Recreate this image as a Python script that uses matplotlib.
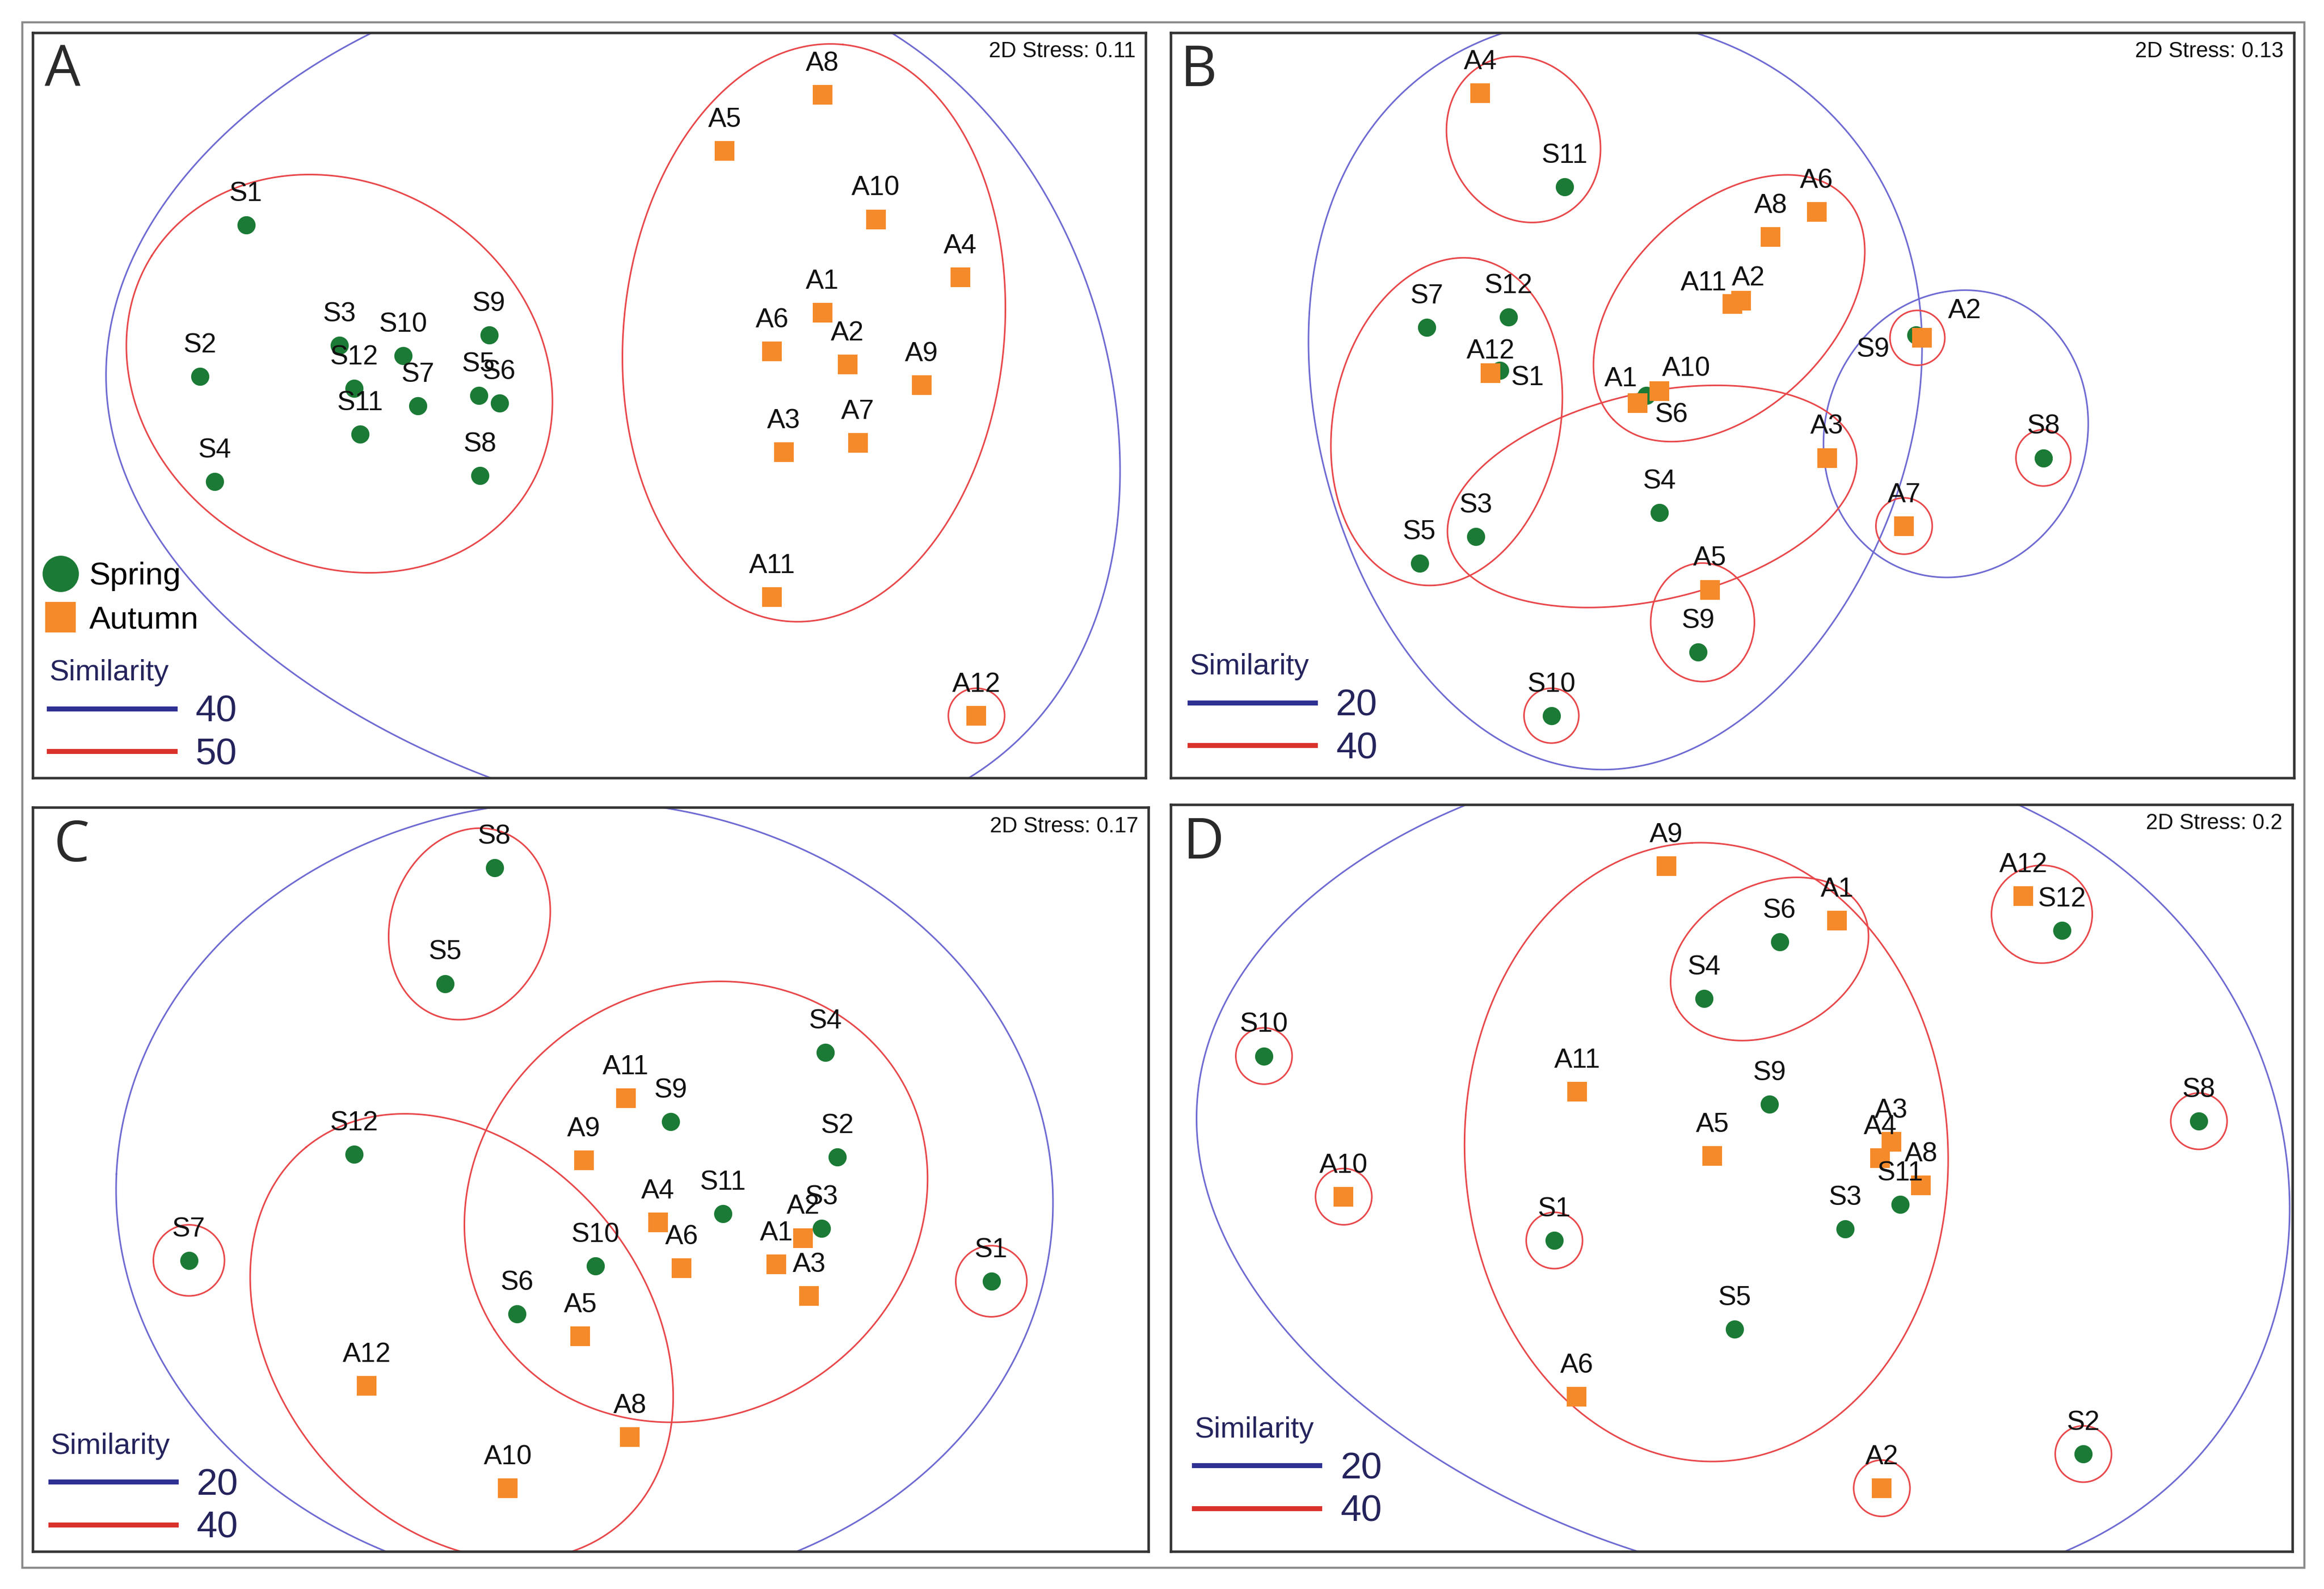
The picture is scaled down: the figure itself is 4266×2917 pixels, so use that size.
import numpy as np
import matplotlib
matplotlib.use('Agg')
import matplotlib.pyplot as plt
from matplotlib.lines import Line2D
from matplotlib.patches import Ellipse, Rectangle

# all coordinates are ordination positions (page units)
W, H = 1568.4, 1072.4

# ---------------- panel A ----------------
a_spring_lab = ['S1', 'S2', 'S3', 'S4', 'S5', 'S6', 'S7', 'S8', 'S9', 'S10', 'S11', 'S12']
a_spring_x = [166, 135, 229, 145, 323, 337, 282, 324, 330, 272, 243, 239]
a_spring_y = [152, 254, 233, 325, 267, 272, 274, 321, 226, 240, 293, 262]
a_autumn_lab = ['A1', 'A2', 'A3', 'A4', 'A5', 'A6', 'A7', 'A8', 'A9', 'A10', 'A11', 'A12']
a_autumn_x = [555, 572, 529, 648, 489, 521, 579, 555, 622, 591, 521, 659]
a_autumn_y = [211, 246, 305, 187, 102, 237, 299, 64, 260, 148, 403, 483]
# traced outlines (run off the frame), fitted clusters, single-sample rings
a_trace = [[(418, -25), (590, 22), (635, 51), (706, 120), (741, 205), (756, 308), (754, 359),
            (726, 434), (695, 486), (668, 525), (505, 562), (338, 525), (262, 492), (202, 455),
            (131, 393), (88, 342), (76, 300), (72, 255), (80, 205), (101, 154), (151, 92),
            (202, 51), (247, 22)]]
a_fit = [[(207, 116), (151, 127), (111, 161), (91, 205), (90, 257), (111, 315), (161, 363),
          (237, 386), (302, 373), (353, 335), (375, 274), (363, 212), (323, 171), (272, 133)],
         [(554, 34), (484, 58), (438, 137), (423, 239), (443, 342), (494, 410), (534, 426),
          (580, 407), (645, 325), (680, 239), (678, 154), (640, 79), (595, 41)]]
a_fit_col = ['r', 'r']
a_rings = [(659, 483, 38, 37)]

# ---------------- panel B ----------------
b_spring_lab = ['S1', 'S3', 'S4', 'S5', 'S6', 'S7', 'S8', 'S9', 'S9', 'S10', 'S11', 'S12']
b_spring_x = [1012, 996, 1120, 958, 1111, 963, 1379, 1293, 1146, 1047, 1056, 1018]
b_spring_y = [250, 362, 346, 380, 267, 221, 309, 226, 440, 483, 126, 214]
b_autumn_lab = ['A1', 'A2', 'A2', 'A3', 'A4', 'A5', 'A6', 'A7', 'A8', 'A10', 'A11', 'A12']
b_autumn_x = [1105, 1175, 1297, 1233, 999, 1154, 1226, 1285, 1195, 1120, 1169, 1006]
b_autumn_y = [272, 203, 228, 309, 63, 398, 143, 355, 160, 264, 205, 252]
b_trace = [[(1068, 4), (1128, 21), (1184, 45), (1234, 79), (1284, 137), (1299, 212),
            (1294, 257), (1284, 308), (1264, 376), (1209, 455), (1134, 507), (1084, 524),
            (998, 486), (933, 411), (888, 308), (883, 205), (898, 137), (933, 86), (973, 45),
            (1008, 21)]]
b_fit = [[(1229, 294), (1264, 222), (1324, 197), (1384, 219), (1409, 294), (1374, 363),
          (1316, 393), (1259, 363)],
         [(1018, 40), (1063, 55), (1078, 110), (1048, 149), (983, 113), (976, 75)],
         [(1214, 118), (1249, 130), (1251, 178), (1234, 240), (1184, 281), (1134, 295),
          (1094, 291), (1079, 260), (1084, 205), (1114, 164), (1164, 130)],
         [(978, 349), (1008, 308), (1064, 277), (1134, 262), (1184, 262), (1234, 277),
          (1251, 308), (1244, 342), (1209, 370), (1159, 394), (1084, 411), (1024, 404),
          (988, 383)],
         [(993, 180), (948, 190), (913, 222), (903, 298), (913, 359), (948, 397), (983, 394),
          (1019, 359), (1049, 308), (1056, 260), (1044, 212), (1024, 188)]]
b_fit_col = ['b', 'r', 'r', 'r', 'r']
b_rings = [(1294, 228, 37, 37), (1285, 355, 38, 38), (1379, 309, 37, 38),
           (1047, 483, 37, 37), (1149, 420, 70, 80)]

# ---------------- panel C ----------------
c_spring_lab = ['S1', 'S2', 'S3', 'S4', 'S5', 'S6', 'S7', 'S8', 'S9', 'S10', 'S11', 'S12']
c_spring_x = [669, 565, 554.5, 557, 300.4, 349, 127.5, 333.7, 452.7, 402, 488, 239]
c_spring_y = [864.7, 780.8, 829, 710.3, 663.8, 886.7, 850.6, 585.7, 757, 854.4, 819, 779]
c_autumn_lab = ['A1', 'A2', 'A3', 'A4', 'A5', 'A6', 'A8', 'A9', 'A10', 'A11', 'A12']
c_autumn_x = [524, 542, 546, 444, 391.7, 460, 425, 394, 342.8, 422.4, 247.5]
c_autumn_y = [853.4, 835.5, 874.7, 825, 901.9, 856, 970, 783, 1004.4, 741.2, 935.2]
c_trace = []
c_fit = [[(305, 545), (201.6, 591.6), (126, 670.7), (83, 774), (85.7, 860), (116, 929),
          (166, 994), (257, 1046.7), (529, 1046.7), (580, 1021.6), (655, 963), (706, 877),
          (716, 808), (680.6, 705), (605, 619), (450, 545)],
         [(322.6, 560.6), (282, 577.8), (263, 633), (282, 677.6), (308.5, 689.6),
          (353, 663.8), (372, 612), (358, 574.4)],
         [(504, 661), (428.5, 677.6), (363, 715.4), (322.6, 773.9), (308.5, 829), (322.6, 877),
          (363, 921.8), (448.6, 958), (504, 956.3), (554.5, 928.7), (605, 870), (621.6, 801.4),
          (605, 722.3), (564.6, 681)],
         [(262, 747), (327.7, 767), (393, 808), (438.6, 877), (456, 946), (443.6, 1007.8),
          (393, 1038.7), (327.7, 1044), (252, 1021.6), (201.6, 973), (179, 877),
          (181.5, 808), (216.8, 763.6)]]
c_fit_col = ['b', 'r', 'r', 'r']
c_rings = [(127.5, 850.6, 48, 48), (669, 864.7, 48, 48)]

# ---------------- panel D ----------------
d_spring_lab = ['S1', 'S2', 'S3', 'S4', 'S5', 'S6', 'S8', 'S9', 'S10', 'S11', 'S12']
d_spring_x = [1049, 1406, 1245.3, 1150, 1170.7, 1201, 1484, 1194.3, 853, 1282.4, 1391.6]
d_spring_y = [837.2, 981.3, 829.3, 673.8, 897, 635.6, 756.7, 745.3, 712.7, 812.8, 628]
d_autumn_lab = ['A1', 'A2', 'A3', 'A4', 'A5', 'A6', 'A8', 'A9', 'A10', 'A11', 'A12']
d_autumn_x = [1239.8, 1270, 1276.4, 1268.9, 1155.7, 1064, 1296.4, 1124.6, 906.8, 1064.5, 1365.5]
d_autumn_y = [621.2, 1004.4, 770.5, 781.5, 780, 942.5, 800, 584.7, 807.6, 736.7, 604.7]
d_trace = [[(1181, 518), (1373.6, 543.4), (1426.7, 577.8), (1479.7, 626), (1512.9, 688),
            (1532.8, 746.4), (1541.4, 808.3), (1539.5, 853), (1530, 911.5), (1512.9, 956),
            (1479.7, 990.6), (1439.9, 1018), (1390.8, 1047.4), (1250, 1070), (1107.5, 1047.4),
            (1018.9, 1007.8), (934.5, 963.1), (871.2, 911.5), (829, 842.7), (815.3, 791.1),
            (813.2, 739.5), (829, 677.6), (860.7, 622.5), (913.4, 574.4), (989.4, 543.4)]]
d_fit = [[(1143.7, 560.6), (1109.6, 564), (1061, 601.9), (1018.9, 670.7), (997.8, 773.9),
          (999.9, 842.7), (1018.9, 911.5), (1050.6, 952.8), (1092.8, 973.4), (1133.7, 976.8),
          (1183.7, 963.1), (1258.9, 928.7), (1309, 877.1), (1324, 794.5), (1309, 739.5),
          (1283.9, 687.9), (1233.8, 619.1), (1193.7, 574.4)],
         [(1208.8, 592.3), (1261.4, 629.4), (1243.8, 670.7), (1173.7, 702.7), (1128.7, 663.8),
          (1133.7, 636.3), (1173.7, 601.9)]]
d_fit_col = ['r', 'r']
d_rings = [(1378, 617, 68, 66), (853, 712.7, 38, 38), (906.8, 807.6, 38, 38),
           (1049, 837.2, 38, 38), (1484, 756.7, 38, 38), (1406, 981.3, 38, 38),
           (1270, 1004.4, 38, 38)]

stress = ['2D Stress: 0.11', '2D Stress: 0.13', '2D Stress: 0.17', '2D Stress: 0.2']
sim_levels = [('40', '50'), ('20', '40'), ('20', '40'), ('20', '40')]

# label nudges (page px: right, up) where a label is not straight above its point
b_spring_off = {0: (19, -5), 7: (-29, -10), 4: (17, -13)}
b_autumn_off = {0: (-11, 16), 1: (5, 15), 2: (29, 18), 9: (18, 15), 10: (-19, 14), 11: (0, 15)}

GREEN = '#1b7a35'
ORANGE = '#f58a2a'
RED = '#e8474a'
BLUE = '#6e6ad2'
NAVY = '#24235c'
PX = 2.72 * 72 / 300  # page px -> points

plt.rcParams['font.family'] = ['Liberation Sans', 'DejaVu Sans']


def fit_ellipse(pts, n=500):
    p = np.asarray(pts, float)
    m = p.mean(0)
    s = p.std()
    q = (p - m) / s
    x, y = q[:, 0], q[:, 1]
    M = np.column_stack([x * x, x * y, y * y, x, y])
    a, b, c, d, e = np.linalg.lstsq(M, np.ones(len(q)), rcond=None)[0]
    Q = np.array([[a, b / 2], [b / 2, c]])
    L = np.array([d, e])
    c0 = np.linalg.solve(2 * Q, -L)
    k = 1 - (c0 @ Q @ c0 + L @ c0)
    w, V = np.linalg.eigh(Q / k)
    t = np.linspace(0, 2 * np.pi, n)
    u = V @ np.vstack([np.cos(t) / np.sqrt(w[0]), np.sin(t) / np.sqrt(w[1])])
    return (u.T + c0) * s + m


def smooth_outline(pts, order=2, n=720, rounds=30):
    # low-order fourier curve fitted to a traced closed outline (egg shapes),
    # re-assigning each traced point to its nearest spot on the curve
    p = np.asarray(pts, float)
    seg = np.linalg.norm(np.diff(np.vstack([p, p[:1]]), axis=0), axis=1)
    s = np.concatenate([[0], np.cumsum(seg)[:-1]]) / seg.sum() * 2 * np.pi

    def basis(t):
        cols = [np.ones_like(t)]
        for k in range(1, order + 1):
            cols += [np.cos(k * t), np.sin(k * t)]
        return np.column_stack(cols)

    t = np.linspace(0, 2 * np.pi, n, endpoint=False)
    for _ in range(rounds):
        cx = np.linalg.lstsq(basis(s), p[:, 0], rcond=None)[0]
        cy = np.linalg.lstsq(basis(s), p[:, 1], rcond=None)[0]
        curve = np.column_stack([basis(t) @ cx, basis(t) @ cy])
        d = ((p[:, None, :] - curve[None, :, :]) ** 2).sum(-1)
        s = t[d.argmin(1)]
    curve = np.column_stack([basis(t) @ cx, basis(t) @ cy])
    return np.vstack([curve, curve[:1]])


fig = plt.figure(figsize=(4266 / 300, 2917 / 300), dpi=300)
fig.add_artist(Rectangle((15 / W, 1 - 1058 / H), 1540 / W, 1043 / H,
                         transform=fig.transFigure, fill=False, ec='#8a8a8a', lw=0.9))

frames = [(22, 22, 773, 525), (790, 22, 1548, 525), (22, 545, 775, 1047), (790, 543, 1547, 1047)]
letters = ['A', 'B', 'C', 'D']
panels = [
    (a_spring_lab, a_spring_x, a_spring_y, a_autumn_lab, a_autumn_x, a_autumn_y,
     a_trace, a_fit, a_fit_col, a_rings, {}, {}),
    (b_spring_lab, b_spring_x, b_spring_y, b_autumn_lab, b_autumn_x, b_autumn_y,
     b_trace, b_fit, b_fit_col, b_rings, b_spring_off, b_autumn_off),
    (c_spring_lab, c_spring_x, c_spring_y, c_autumn_lab, c_autumn_x, c_autumn_y,
     c_trace, c_fit, c_fit_col, c_rings, {}, {}),
    (d_spring_lab, d_spring_x, d_spring_y, d_autumn_lab, d_autumn_x, d_autumn_y,
     d_trace, d_fit, d_fit_col, d_rings, {}, {}),
]
legend_pos = [(0.015, 0.008), (0.017, 0.016), (0.016, 0.008), (0.021, 0.03)]
letter_x = [0.011, 0.009, 0.019, 0.011]

for i, (x0, y0, x1, y1) in enumerate(frames):
    ax = fig.add_axes([x0 / W, 1 - y1 / H, (x1 - x0) / W, (y1 - y0) / H])
    ax.set_xlim(x0, x1)
    ax.set_ylim(y1, y0)
    ax.set_xticks([])
    ax.set_yticks([])
    for sp in ax.spines.values():
        sp.set_color('#333333')
        sp.set_linewidth(1.1)

    (s_lab, s_x, s_y, a_lab, a_x, a_y, traces, fits, fit_col, rings,
     s_off, a_off) = panels[i]

    for pts in traces:
        e = smooth_outline(pts)
        ax.plot(e[:, 0], e[:, 1], color=BLUE, lw=0.7, zorder=1)
    for pts, col in zip(fits, fit_col):
        e = fit_ellipse(pts)
        ax.plot(e[:, 0], e[:, 1], color=BLUE if col == 'b' else RED, lw=0.7, zorder=1)
    for cx, cy, w, h in rings:
        ax.add_patch(Ellipse((cx, cy), w, h, fill=False, ec=RED, lw=0.7, zorder=1))

    ax.plot(s_x, s_y, 'o', color=GREEN, ms=7, mec=GREEN, ls='none', zorder=3)
    ax.plot(a_x, a_y, 's', color=ORANGE, ms=7.5, mec=ORANGE, ls='none', zorder=4)

    for lab_list, xs, ys, off in ((s_lab, s_x, s_y, s_off), (a_lab, a_x, a_y, a_off)):
        for j, (lab, x, y) in enumerate(zip(lab_list, xs, ys)):
            dx, dy = off.get(j, (0, 21))
            ax.annotate(lab, (x, y), xytext=(dx * PX, dy * PX), textcoords='offset points',
                        ha='center', va='center', fontsize=12, color='#111111', zorder=5)

    ax.text(letter_x[i], 0.948, letters[i], transform=ax.transAxes, ha='left', va='center',
            fontsize=25, family='Open Sans', color='#2a2a2a')
    ax.text(0.991, 0.975, stress[i], transform=ax.transAxes, ha='right', va='center',
            fontsize=9.5, color='#111111')

    hi, lo = sim_levels[i]
    sim_handles = [Line2D([], [], color='#2e3192', lw=2.2),
                   Line2D([], [], color='#d9322b', lw=2.2)]
    leg = ax.legend(sim_handles, [hi, lo], loc='lower left', bbox_to_anchor=legend_pos[i],
                    frameon=False, fontsize=16.5, title='Similarity', title_fontsize=13,
                    alignment='left', handlelength=3.35, handletextpad=0.55,
                    labelspacing=0.21, borderpad=0, borderaxespad=0, labelcolor=NAVY)
    leg.get_title().set_color(NAVY)

    if i == 0:
        ax.add_artist(leg)
        season = [Line2D([], [], marker='o', color=GREEN, ms=15, ls='none'),
                  Line2D([], [], marker='s', color=ORANGE, ms=12.5, ls='none')]
        ax.legend(season, ['Spring', 'Autumn'], loc='lower left', bbox_to_anchor=(0.011, 0.192),
                  frameon=False, fontsize=14, handlelength=1.0, handletextpad=0.39,
                  labelspacing=0.45, borderpad=0, borderaxespad=0)

fig.savefig('out.png', dpi=300)
